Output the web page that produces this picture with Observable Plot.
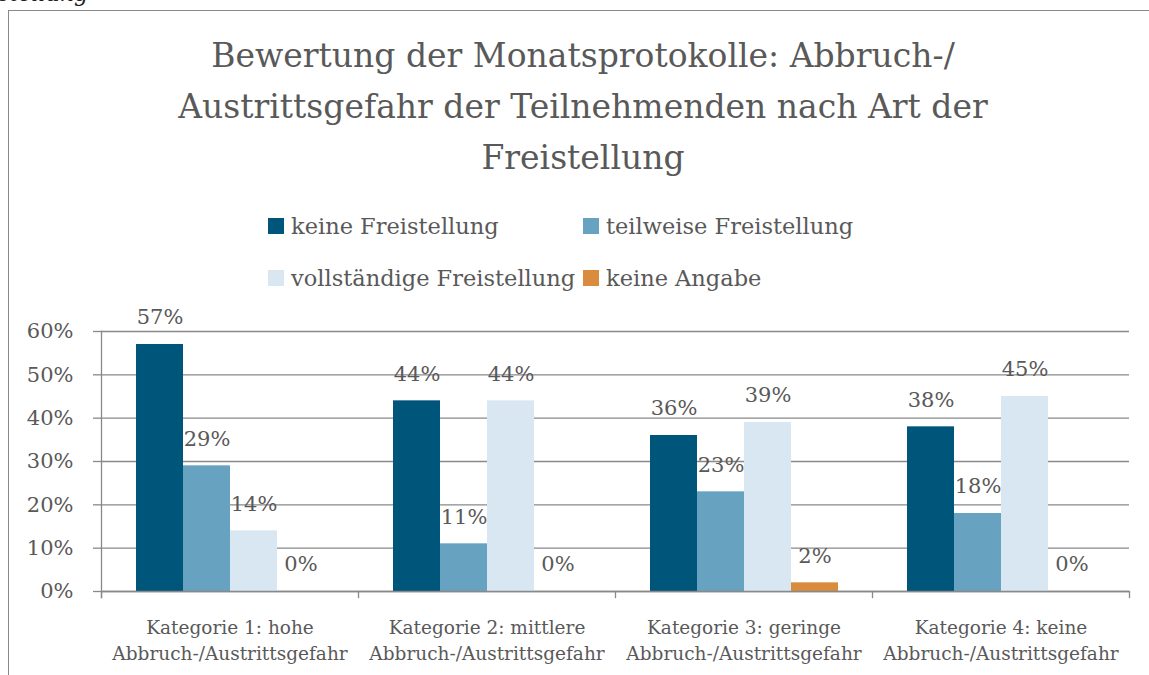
<!DOCTYPE html>
<html>
<head>
<meta charset="utf-8">
<script src="https://cdn.jsdelivr.net/npm/d3@7"></script>
<script src="https://cdn.jsdelivr.net/npm/@observablehq/plot@0.6"></script>
<style>
  html, body { margin: 0; padding: 0; background: #fff; }
  #root { position: relative; width: 1149px; height: 675px; overflow: hidden; font-family: "DejaVu Serif", serif; color: #595959; }
  #border { position: absolute; left: 8px; top: 10px; width: 1200px; height: 700px; border-left: 1.5px solid #898989; border-top: 1.5px solid #898989; }
  #cut { position: absolute; right: 1061px; top: -19px; font-style: italic; font-size: 22px; color: #222; white-space: nowrap; }
  #title { position: absolute; left: 8px; width: 1150px; top: 30px; text-align: center; font-size: 33px; line-height: 51px; }
  #legend { position: absolute; left: 268px; top: 200px; font-size: 22.5px; }
  .row { display: flex; height: 52px; align-items: center; }
  .item { display: flex; align-items: center; width: 315px; }
  .sw { width: 16px; height: 16px; margin-right: 7px; flex: none; }
  #chart { position: absolute; left: 0; top: 300px; }
</style>
</head>
<body>
<div id="root">
  <div id="cut">Freistellung</div>
  <div id="border"></div>
  <div id="title"></div>
  <div id="legend"></div>
  <div id="chart"></div>
</div>
<script>
const titleLines = ["Bewertung der Monatsprotokolle: Abbruch-/", "Austrittsgefahr der Teilnehmenden nach Art der", "Freistellung"];
const categories = [
  "Kategorie 1: hohe\nAbbruch-/Austrittsgefahr",
  "Kategorie 2: mittlere\nAbbruch-/Austrittsgefahr",
  "Kategorie 3: geringe\nAbbruch-/Austrittsgefahr",
  "Kategorie 4: keine\nAbbruch-/Austrittsgefahr"
];
const series = ["keine Freistellung", "teilweise Freistellung", "vollständige Freistellung", "keine Angabe"];
const colors = ["#00557A", "#67A3C1", "#D8E7F1", "#D98C3D"];
const keineFreistellung = [0.57, 0.44, 0.36, 0.38];
const teilweiseFreistellung = [0.29, 0.11, 0.23, 0.18];
const vollstaendigeFreistellung = [0.14, 0.44, 0.39, 0.45];
const keineAngabe = [0.00, 0.00, 0.02, 0.00];
const yTicks = [0, 0.1, 0.2, 0.3, 0.4, 0.5, 0.6];

const seriesValues = [keineFreistellung, teilweiseFreistellung, vollstaendigeFreistellung, keineAngabe];
const data = [];
categories.forEach((c, i) => series.forEach((s, j) => data.push({cat: c, series: s, value: seriesValues[j][i]})));

const pct = d => Math.round(d * 100) + "%";
const fontFamily = '"DejaVu Serif", serif';
const gridColor = "#898989";

document.getElementById("title").innerHTML = titleLines.join("<br>");
const legend = document.getElementById("legend");
for (let r = 0; r < 2; r++) {
  const row = document.createElement("div");
  row.className = "row";
  for (let c = 0; c < 2; c++) {
    const k = r * 2 + c;
    const item = document.createElement("div");
    item.className = "item";
    item.innerHTML = `<span class="sw" style="background:${colors[k]}"></span><span>${series[k]}</span>`;
    row.appendChild(item);
  }
  legend.appendChild(row);
}

const plotH = 260;
const chart = Plot.plot({
  width: 1149,
  height: 375,
  marginLeft: 101,
  marginRight: 20,
  marginTop: 31,
  marginBottom: 84,
  style: {fontFamily, color: "#595959", background: "transparent", overflow: "visible"},
  fx: {domain: categories, padding: 0, label: null},
  x: {domain: series, paddingInner: 0, paddingOuter: 0.73, axis: null},
  y: {domain: [0, 0.6], label: null},
  color: {domain: series, range: colors},
  marks: [
    Plot.gridY(yTicks, {stroke: gridColor, strokeOpacity: 1, strokeWidth: 1.3}),
    Plot.axisY(yTicks, {tickSize: 8, tickPadding: 20, fontSize: 21, tickFormat: pct, stroke: gridColor, strokeWidth: 1.3, fill: "#595959", label: null}),
    Plot.barY(data, {fx: "cat", x: "series", y: "value", fill: "series"}),
    Plot.ruleY([0], {stroke: gridColor, strokeWidth: 1.3}),
    Plot.frame({anchor: "left", facetAnchor: "left", insetBottom: -6, stroke: gridColor, strokeWidth: 1.3}),
    Plot.frame({anchor: "left", insetTop: plotH, insetBottom: -6, stroke: gridColor, strokeWidth: 1.3}),
    Plot.frame({anchor: "right", facetAnchor: "right", insetTop: plotH, insetBottom: -6, stroke: gridColor, strokeWidth: 1.3}),
    Plot.text(data, {fx: "cat", x: "series", y: "value", text: d => pct(d.value), dy: -27, fontSize: 21, fill: "#595959"}),
    Plot.axisFx({anchor: "bottom", tickSize: 0, tickPadding: 24, fontSize: 18.5, lineHeight: 1.4, label: null, fill: "#595959"})
  ]
});
document.getElementById("chart").appendChild(chart);
</script>
</body>
</html>
